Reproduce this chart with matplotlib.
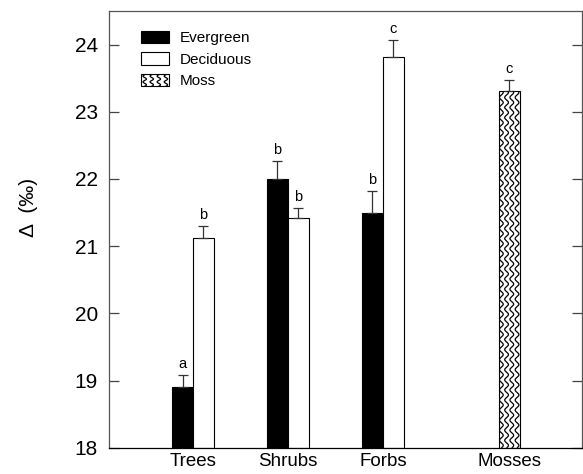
import numpy as np
import matplotlib
matplotlib.use("Agg")
import matplotlib.pyplot as plt
from matplotlib.patches import Rectangle, Patch
from matplotlib.lines import Line2D
from matplotlib.legend_handler import HandlerPatch

categories = ["Trees", "Shrubs", "Forbs", "Mosses"]
evergreen = [18.9, 22.0, 21.5]
evergreen_err = [0.18, 0.27, 0.32]
evergreen_sig = ["a", "b", "b"]
deciduous = [21.12, 21.42, 23.82]
deciduous_err = [0.18, 0.15, 0.25]
deciduous_sig = ["b", "b", "c"]
moss = [23.31]
moss_err = [0.16]
moss_sig = ["c"]

plt.rcParams["font.family"] = ["Liberation Sans", "DejaVu Sans"]

x_pos = np.array([0.0, 1.0, 2.0, 3.33])
width = 0.22


def wavy_lines(ax, x0, x1, y0, y1, clip, n=4, color="black"):
    # decorative wavy hatch drawn inside a rectangle
    ys = np.linspace(y0, y1, 600)
    span = x1 - x0
    for k in range(n):
        cx = x0 + span * (k + 0.5) / n
        xs = cx + span * 0.09 * np.sin(2 * np.pi * (ys - y0) / 0.15)
        ln, = ax.plot(xs, ys, color=color, lw=0.9, solid_capstyle="butt")
        ln.set_clip_path(clip)


class HandlerWavy(HandlerPatch):
    def create_artists(self, legend, orig_handle, xdescent, ydescent,
                       width, height, fontsize, trans):
        r = Rectangle((-xdescent, -ydescent), width, height,
                      facecolor="white", edgecolor="black", lw=0.8,
                      transform=trans)
        arts = [r]
        n = 4
        ys = np.linspace(-ydescent, -ydescent + height, 80)
        for k in range(n):
            cx = -xdescent + width * (k + 0.5) / n
            xs = cx + width * 0.06 * np.sin(2 * np.pi * (ys + ydescent) / (height / 2.2))
            ln = Line2D(xs, ys, color="black", lw=0.9, transform=trans)
            ln.set_clip_path(r)
            arts.append(ln)
        return arts


fig = plt.figure(figsize=(5.83, 4.74), dpi=100)
ax = fig.add_axes([0.187, 0.055, 0.811, 0.922])

err_kw = dict(ecolor="#333333", elinewidth=0.9, capsize=3.5, capthick=0.9)

ev_x = x_pos[:3] - width / 2
de_x = x_pos[:3] + width / 2
ax.bar(ev_x, np.array(evergreen) - 18, width, bottom=18, color="black",
       edgecolor="black", lw=0.8,
       yerr=[np.zeros(3), evergreen_err], error_kw=err_kw)
ax.bar(de_x, np.array(deciduous) - 18, width, bottom=18, color="white",
       edgecolor="black", lw=0.8,
       yerr=[np.zeros(3), deciduous_err], error_kw=err_kw)
mb = ax.bar(x_pos[3:], np.array(moss) - 18, width, bottom=18, color="white",
            edgecolor="black", lw=0.8,
            yerr=[np.zeros(1), moss_err], error_kw=err_kw)
rect = mb.patches[0]
wavy_lines(ax, x_pos[3] - width / 2, x_pos[3] + width / 2, 18, moss[0], rect)

for xs, vals, errs, sig in [(ev_x, evergreen, evergreen_err, evergreen_sig),
                            (de_x, deciduous, deciduous_err, deciduous_sig),
                            (x_pos[3:], moss, moss_err, moss_sig)]:
    for x, v, e, s in zip(xs, vals, errs, sig):
        ax.annotate(s, (x, v + e), xytext=(0, 3), textcoords="offset points",
                    ha="center", va="bottom", fontsize=10.5)

ax.set_xlim(-0.884, 4.095)
ax.set_ylim(18, 24.5)
ax.set_yticks(np.arange(18, 25, 1))
ax.set_xticks(x_pos)
ax.set_xticklabels(categories)
ax.tick_params(axis="y", direction="in", length=7, width=0.9, labelsize=15,
               right=True, pad=8, color="#444444")
ax.tick_params(axis="x", length=0, labelsize=13.5, pad=4)
for sp in ax.spines.values():
    sp.set_linewidth(0.9)
    sp.set_color("#555555")
ax.spines["bottom"].set_color("black")

ax.set_ylabel("Δ  (‰)", fontsize=15)
ax.yaxis.set_label_coords(-0.15, 0.55)

handles = [Patch(facecolor="black", edgecolor="black", lw=0.8),
           Patch(facecolor="white", edgecolor="black", lw=0.8),
           Patch(facecolor="white", edgecolor="black", lw=0.8)]
ax.legend(handles, ["Evergreen", "Deciduous", "Moss"],
          handler_map={handles[2]: HandlerWavy()},
          loc="upper left", bbox_to_anchor=(0.068, 0.955), frameon=False,
          fontsize=11, handlelength=1.85, handleheight=0.9,
          handletextpad=0.65, labelspacing=0.45, borderpad=0, borderaxespad=0)

fig.savefig("out.png", dpi=100)
